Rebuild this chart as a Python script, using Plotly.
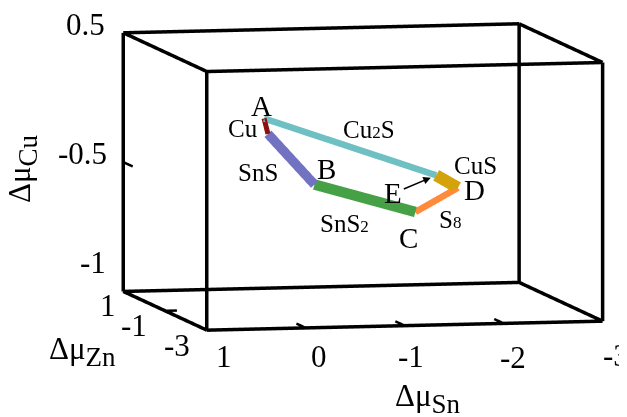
import math
import plotly.graph_objects as go

# ---------------- data ----------------
sn_range = [-3, 1]
zn_range = [-3, 1]
cu_range = [-1.5, 0.5]

sn_ticks = [1, 0, -1, -2, -3]
sn_ticklabels = ["1", "0", "-1", "-2", "-3"]
zn_ticks = [1, -1, -3]
zn_ticklabels = ["1", "-1", "-3"]
cu_ticks = [0.5, -0.5, -1.5]
cu_ticklabels = ["0.5", "-0.5", "-1"]

# polygon vertices (Δμ_Sn, Δμ_Cu) in the plane Δμ_Zn = zn_plane
vertex_names = ["A", "A1", "B", "C", "D", "E"]
vertex_sn = [0.00, -0.04, -0.51, -1.53, -1.96, -1.74]
vertex_cu = [-0.03, -0.15, -0.55, -0.78, -0.60, -0.50]
zn_plane = -1.0

# boundary segments: phase, start vertex, end vertex
seg_phase = ["Cu", "Cu2S", "SnS", "SnS2", "S8", "CuS"]
seg_start = ["A", "A", "A1", "B", "C", "D"]
seg_end = ["A1", "E", "B", "C", "D", "E"]

# ---------------- style ----------------
seg_color = {"Cu": "#8b0f0f", "Cu2S": "#6fc0c2", "SnS": "#7272c2",
             "SnS2": "#46a046", "S8": "#ff8a3c", "CuS": "#d4a20a"}
seg_width = {"Cu": 10, "Cu2S": 13, "SnS": 19, "SnS2": 21, "S8": 13, "CuS": 24}
SUB = "<span style='font-size:17px'>{}</span>"
seg_text = {"Cu": "Cu", "Cu2S": "Cu" + SUB.format("2") + "S",
            "SnS": "SnS", "SnS2": "SnS" + SUB.format("2"),
            "S8": "S" + SUB.format("8"), "CuS": "CuS"}
seg_shift = {"Cu": (-23, -2), "Cu2S": (19, 17), "SnS": (-33, -13),
             "SnS2": (-21, -25), "S8": (13, -20), "CuS": (28, 16)}
pt_shift = {"A": (-3, 12), "B": (12, 16), "C": (-7, -26), "D": (16, -2)}

FONT = "Liberation Serif"
idx = {n: i for i, n in enumerate(vertex_names)}

fig = go.Figure()

# ----- box frame (axes) -----
bx, by, bz = [], [], []
for a in zn_range:
    for b in sn_range:
        bx += [a, a, None]; by += [b, b, None]; bz += [cu_range[0], cu_range[1], None]
for a in zn_range:
    for c in cu_range:
        bx += [a, a, None]; by += [sn_range[0], sn_range[1], None]; bz += [c, c, None]
for b in sn_range:
    for c in cu_range:
        bx += [zn_range[0], zn_range[1], None]; by += [b, b, None]; bz += [c, c, None]
fig.add_trace(go.Scatter3d(x=bx, y=by, z=bz, mode="lines",
                           line=dict(color="black", width=7),
                           showlegend=False, hoverinfo="skip"))

# ----- tick marks (pointing into the box) -----
tk_zn = 0.45   # Cu / Sn ticks point along Zn
tk_sn = 0.12   # Zn ticks point along Sn
tx, ty, tz = [], [], []
for v in cu_ticks:
    tx += [zn_range[1], zn_range[1] - tk_zn, None]; ty += [sn_range[1], sn_range[1], None]; tz += [v, v, None]
for v in zn_ticks:
    tx += [v, v, None]; ty += [sn_range[1], sn_range[1] - tk_sn, None]; tz += [cu_range[0], cu_range[0], None]
for v in sn_ticks:
    tx += [zn_range[0], zn_range[0] + tk_zn, None]; ty += [v, v, None]; tz += [cu_range[0], cu_range[0], None]
fig.add_trace(go.Scatter3d(x=tx, y=ty, z=tz, mode="lines",
                           line=dict(color="black", width=5),
                           showlegend=False, hoverinfo="skip"))

# ----- stability region boundary -----
for ph, s, e in zip(seg_phase, seg_start, seg_end):
    i, j = idx[s], idx[e]
    fig.add_trace(go.Scatter3d(
        x=[zn_plane, zn_plane], y=[vertex_sn[i], vertex_sn[j]],
        z=[vertex_cu[i], vertex_cu[j]], mode="lines",
        line=dict(color=seg_color[ph], width=seg_width[ph]),
        showlegend=False, hoverinfo="skip"))

ann = []
for ph, s, e in zip(seg_phase, seg_start, seg_end):
    i, j = idx[s], idx[e]
    dx, dy = seg_shift[ph]
    ann.append(dict(x=zn_plane, y=(vertex_sn[i] + vertex_sn[j]) / 2,
                    z=(vertex_cu[i] + vertex_cu[j]) / 2, text=seg_text[ph],
                    showarrow=False, xshift=dx, yshift=dy,
                    font=dict(family=FONT, size=25, color="black")))
for n, (dx, dy) in pt_shift.items():
    i = idx[n]
    ann.append(dict(x=zn_plane, y=vertex_sn[i], z=vertex_cu[i], text=n,
                    showarrow=False, xshift=dx, yshift=dy,
                    font=dict(family=FONT, size=29, color="black")))
iE = idx["E"]
ann.append(dict(x=zn_plane, y=vertex_sn[iE], z=vertex_cu[iE], text="E",
                showarrow=True, ax=-43, ay=18, arrowhead=2, arrowsize=1,
                arrowwidth=1.5, arrowcolor="black", standoff=6,
                font=dict(family=FONT, size=29, color="black")))

TICKFONT = dict(family=FONT, size=31, color="black")
cu_shift = [(-17, 8), (-15, 9), (-16, 29)]
for v, t, (dx, dy) in zip(cu_ticks, cu_ticklabels, cu_shift):
    ann.append(dict(x=zn_range[1], y=sn_range[1], z=v, text=t, showarrow=False,
                    xanchor="right", xshift=dx, yshift=dy, font=TICKFONT))
zn_shift = [(-6, -14), (-16, -15), (-15, -15)]
for v, t, (dx, dy) in zip(zn_ticks, zn_ticklabels, zn_shift):
    ann.append(dict(x=v, y=sn_range[1], z=cu_range[0], text=t, showarrow=False,
                    xanchor="right", xshift=dx, yshift=dy, font=TICKFONT))
sn_shift = [(17, -26), (13, -28), (6, -31), (9, -34), (13, -34)]
for v, t, (dx, dy) in zip(sn_ticks, sn_ticklabels, sn_shift):
    ann.append(dict(x=zn_range[0], y=v, z=cu_range[0], text=t, showarrow=False,
                    xshift=dx, yshift=dy, font=TICKFONT))

axis_common = dict(showbackground=False, showgrid=False, zeroline=False,
                   showline=False, showspikes=False, ticks="",
                   showticklabels=False, title=dict(text=""))

# scene axes extend slightly past the frame so the frame is never clipped
PADF = 0.01
def padded(r):
    p = (r[1] - r[0]) * PADF / 2
    return [r[0] - p, r[1] + p]

theta = math.radians(12.5)
phi = math.radians(5.9)
D = 8.0
R = (-math.sin(theta), -math.cos(theta))
cshift_r, cshift_u = 0.048, -0.051
center = dict(x=cshift_r * R[0], y=cshift_r * R[1], z=cshift_u)
eye = dict(x=center["x"] - D * math.cos(phi) * math.cos(theta),
           y=center["y"] + D * math.cos(phi) * math.sin(theta),
           z=center["z"] + D * math.sin(phi))
S = 2.19 * (1 + PADF)

W, H = 627, 417
TSUB = "<sub><span style='font-size:27px'>{}</span></sub>"
title_font = dict(family=FONT, size=31, color="black")
titles = [
    dict(x=14 / W, y=1 - 161 / H, text="Δμ" + TSUB.format("Cu"), textangle=-90,
         xanchor="center", yanchor="middle"),
    dict(x=74 / W, y=1 - 321 / H, text="Δμ" + TSUB.format("Zn"),
         xanchor="center", yanchor="top"),
    dict(x=420 / W, y=1 - 368 / H, text="Δμ" + TSUB.format("Sn"),
         xanchor="center", yanchor="top"),
]
for t in titles:
    t.update(xref="paper", yref="paper", showarrow=False, font=title_font)

fig.update_layout(
    width=W, height=H, margin=dict(l=0, r=0, t=0, b=0),
    paper_bgcolor="white", plot_bgcolor="white", hovermode=False,
    scene=dict(
        domain=dict(x=[0.16, 1.0], y=[0.146, 1.0]),
        xaxis=dict(axis_common, range=padded(zn_range)),
        yaxis=dict(axis_common, range=padded(sn_range)),
        zaxis=dict(axis_common, range=padded(cu_range)),
        aspectmode="manual", aspectratio=dict(x=0.99 * S, y=1.04 * S, z=0.667 * S),
        camera=dict(eye=eye, up=dict(x=0, y=0, z=1), center=center,
                    projection=dict(type="orthographic")),
        annotations=ann,
    ),
    annotations=titles,
)

fig.write_html("out.html")
